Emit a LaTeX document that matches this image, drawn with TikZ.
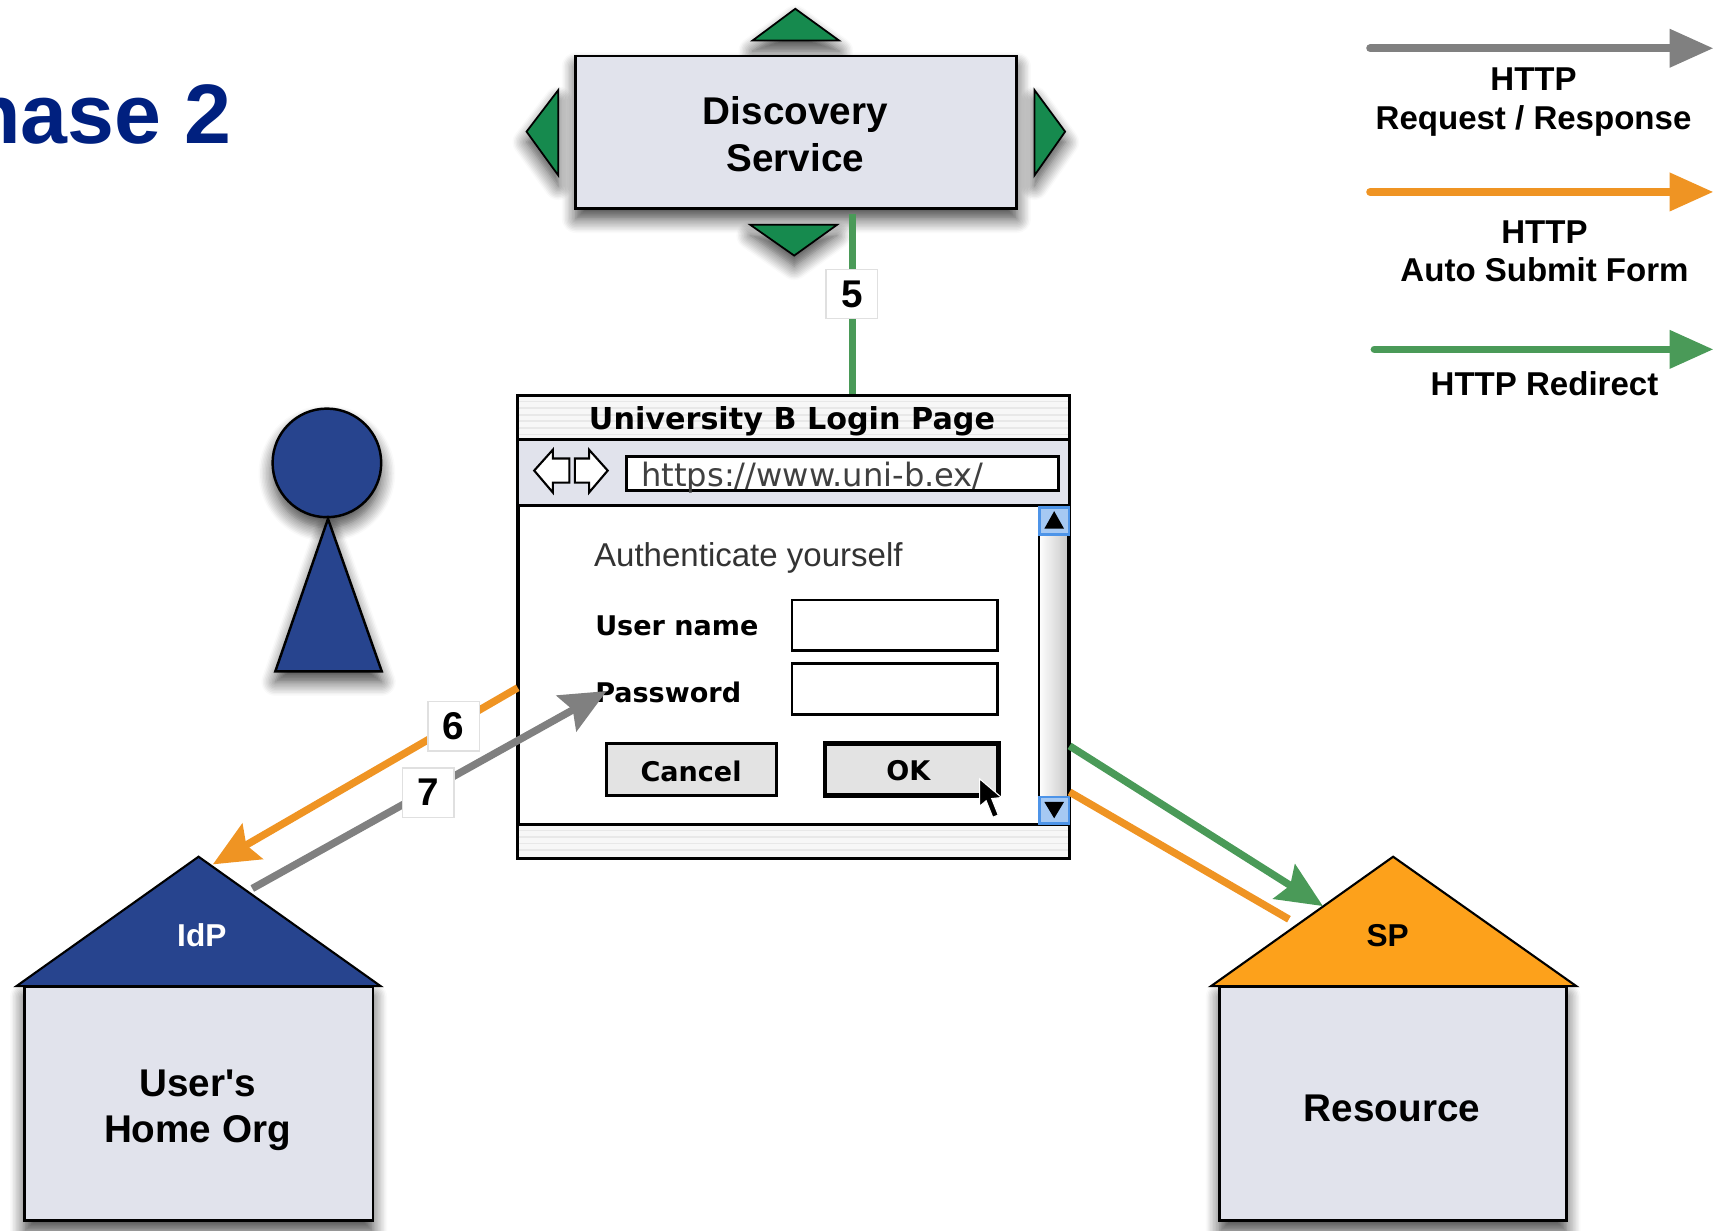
\documentclass[tikz,border=0pt]{standalone}
\usepackage{fontspec}
\setmainfont{Liberation Sans}
\newfontfamily\winfont{DejaVu Sans}
\usetikzlibrary{arrows.meta,shadows.blur}
\definecolor{boxgray}{HTML}{E1E3EC}
\definecolor{idpblue}{HTML}{27448E}
\definecolor{spgold}{HTML}{FDA11B}
\definecolor{dsgreen}{HTML}{168A4E}
\definecolor{linegreen}{HTML}{4A9A58}
\definecolor{lineorange}{HTML}{EF9423}
\definecolor{linegray}{HTML}{808080}
\definecolor{titleblue}{HTML}{00207F}
\definecolor{scrollblue}{HTML}{4D94E8}
\def \unit{0.01097cm}
\tikzset{
	softshadow/.style={blur shadow={shadow xshift=0pt,shadow yshift=-3pt,shadow blur radius=4pt,shadow blur steps=10,shadow opacity=75}},
	boxnode/.style={draw=black,line width=0.8pt,fill=boxgray,softshadow,inner sep=0pt},
	boxtext/.style={align=center,inner sep=0pt,font=\fontsize{11}{13.2}\selectfont\bfseries},
	dsarrow/.style={draw=black,line width=0.5pt,fill=dsgreen,softshadow},
	roofshape/.style={draw=black,line width=0.6pt},
	numlabel/.style={draw=black!12,line width=0.4pt,fill=white,inner sep=0pt,minimum width=47*\unit,minimum height=45*\unit,font=\fontsize{11}{13}\selectfont\bfseries},
	legendtext/.style={align=center,inner sep=0pt,font=\fontsize{9.4}{11}\selectfont\bfseries},
	flow/.style={line width=2.1pt},
	flowtip/.style={flow,-{Stealth[length=13pt,width=11.5pt,inset=2pt]}},
	legendline/.style={line width=2.2pt,line cap=round,-{Triangle[length=12.5pt,width=10.5pt]}},
	winpart/.style={draw=black,line width=0.8pt,inner sep=0pt},
	wintext/.style={inner sep=0pt,anchor=west,font=\winfont\fontsize{7.7}{9}\selectfont\bfseries},
	winbutton/.style={winpart,fill=black!11,minimum height=47*\unit},
	scrollcap/.style={draw=scrollblue,line width=0.8pt,fill=scrollblue!50,inner sep=0pt,minimum width=27*\unit,minimum height=24*\unit},
}
\begin{document}
\begin{tikzpicture}[x=\unit,y=-\unit]
	\useasboundingbox (0,0) rectangle (1568,1122);
	% title, cut by the page edge
	\node[anchor=east,inner sep=0pt,text=titleblue,font=\fontsize{24}{28}\selectfont\bfseries] (title) at (212,103) {Phase 2};
	% discovery service
	\coordinate (dsup) at (725,8);
	\coordinate (dsdown) at (724,233);
	\coordinate (dsleft) at (480,120);
	\coordinate (dsright) at (971,120);
	\draw[dsarrow] (dsup) -- (765,37) -- (686,37) -- cycle;
	\node[boxnode,minimum width=402*\unit,minimum height=139*\unit] (disc) at (726,120.5) {};
	\node[boxtext] (disctext) at (725,122.5) {Discovery\\Service};
	\draw[dsarrow] (dsdown) -- (684,205) -- (763,205) -- cycle;
	\draw[dsarrow] (dsleft) -- (509,82) -- (509,160) -- cycle;
	\draw[dsarrow] (dsright) -- (943,82) -- (943,160) -- cycle;
	% user
	\node[circle,draw=black,line width=0.7pt,fill=idpblue,softshadow,minimum size=99*\unit,inner sep=0pt] (head) at (298,422) {};
	\draw[draw=black,line width=0.7pt,fill=idpblue,softshadow] (299,473) -- (348,612) -- (251,612) -- cycle;
	% browser window
	\node[draw=black,line width=1pt,fill=white,inner sep=0pt,minimum width=503*\unit,minimum height=421*\unit] (win) at (723.5,571.5) {};
	\fill[black!3] (473,362) rectangle (974,401);
	\fill[black!3] (473,752) rectangle (974,781);
	\foreach \y in {366,372,...,399}{\draw[black!9,line width=0.5pt] (473,\y) -- (974,\y);};
	\foreach \y in {757,763,...,780}{\draw[black!9,line width=0.5pt] (473,\y) -- (974,\y);};
	\draw[winpart,fill=boxgray] (472,401) rectangle (975,461);
	\draw[winpart] (472,752) -- (975,752);
	\node[wintext,anchor=center,font=\winfont\fontsize{8.6}{10}\selectfont\bfseries] (wintitle) at (722,384) {University B Login Page};
	\draw[line width=0.6pt,fill=white] (487,429) -- (504,410) -- (504,418) -- (519,418) -- (519,440) -- (504,440) -- (504,449) -- cycle;
	\draw[line width=0.6pt,fill=white] (554,429) -- (537,410) -- (537,418) -- (524,418) -- (524,440) -- (537,440) -- (537,449) -- cycle;
	\node[winpart,fill=white,minimum width=394*\unit,minimum height=31*\unit] (url) at (768,431.5) {};
	\node[inner sep=0pt,anchor=west,font=\winfont\fontsize{9.15}{11}\selectfont,text=black!75] (urltext) at (584,435) {https://www.uni-b.ex/};
	% scroll bar
	\draw[draw=black,line width=0.7pt,left color=white,right color=black!22] (947,463) rectangle (974,751);
	\node[scrollcap] (scrollup) at (961,475) {};
	\node[scrollcap] (scrolldown) at (961,738.5) {};
	\fill[black] (961,466) -- (970,482) -- (952,482) -- cycle;
	\fill[black] (961,746) -- (970,731) -- (952,731) -- cycle;
	% form
	\node[inner sep=0pt,anchor=west,font=\fontsize{9.4}{12}\selectfont,text=black!80] (auth) at (541,509) {Authenticate yourself};
	\node[wintext] (username) at (542,570.5) {User name};
	\node[wintext] (password) at (542,631) {Password};
	\node[winpart,minimum width=187*\unit,minimum height=46*\unit] (userfield) at (815.5,570) {};
	\node[winpart,minimum width=187*\unit,minimum height=46*\unit] (passfield) at (815.5,628) {};
	\node[winbutton,minimum width=155*\unit] (cancel) at (630.5,701.5) {};
	\node[wintext,anchor=center] (canceltext) at (630,703) {Cancel};
	\node[winbutton,minimum width=158*\unit,line width=1.3pt] (ok) at (831,701.5) {};
	\node[wintext,anchor=center] (oktext) at (828,703) {OK};
	\draw[fill=black,draw=white,line width=0.3pt] (893,710) -- (893,735) -- (899,730) -- (905,745) -- (910,743) -- (904,728) -- (913,727) -- cycle;
	% home org
	\node[boxnode,minimum width=318*\unit,minimum height=214*\unit] (home) at (181,1006) {};
	\node[boxtext] (hometext) at (180,1012) {User\textquotesingle s\\Home Org};
	\coordinate (idptop) at (181,781);
	\draw[roofshape,fill=idpblue] (idptop) -- (347,899) -- (15,899) -- cycle;
	\node[inner sep=0pt,text=white,font=\fontsize{9}{11}\selectfont\bfseries] (idp) at (184,853) {IdP};
	% resource
	\node[boxnode,minimum width=316*\unit,minimum height=214*\unit] (res) at (1270,1006) {};
	\node[boxtext] (restext) at (1269,1010) {Resource};
	\coordinate (sptop) at (1270,781);
	\draw[roofshape,fill=spgold] (sptop) -- (1437,899) -- (1104,899) -- cycle;
	\node[inner sep=0pt,text=black,font=\fontsize{9}{11}\selectfont\bfseries] (sp) at (1265,853) {SP};
	% flows
	\coordinate (tapfive) at (777,195);
	\coordinate (sixfrom) at (472,627);
	\coordinate (sixto) at (194,788);
	\coordinate (sevenfrom) at (230,810);
	\coordinate (sevento) at (553,630);
	\coordinate (greenfrom) at (975,680);
	\coordinate (greento) at (1206,826);
	\coordinate (orangefrom) at (975,722);
	\coordinate (orangeto) at (1175,838);
	\draw[flow,linegreen] (tapfive) -- (tapfive |- win.north);
	\draw[flowtip,lineorange] (sixfrom) -- (sixto);
	\draw[flowtip,linegray] (sevenfrom) -- (sevento);
	\draw[flowtip,linegreen] (greenfrom) -- (greento);
	\draw[flow,lineorange] (orangefrom) -- (orangeto);
	\node[numlabel] (five) at (776.5,268) {5};
	\node[numlabel] (six) at (413.5,662) {6};
	\node[numlabel] (seven) at (390.5,722.5) {7};
	% legend
	\coordinate (lega) at (1249,44);
	\coordinate (legae) at (1562,44);
	\coordinate (legb) at (1249,175);
	\coordinate (legbe) at (1562,175);
	\coordinate (legc) at (1253,318.5);
	\coordinate (legce) at (1562,318.5);
	\draw[legendline,linegray] (lega) -- (legae);
	\draw[legendline,lineorange] (legb) -- (legbe);
	\draw[legendline,linegreen] (legc) -- (legce);
	\node[legendtext] (legatext) at (1398,93) {HTTP\\Request / Response};
	\node[legendtext] (legbtext) at (1408,229) {HTTP\\Auto Submit Form};
	\node[legendtext] (legctext) at (1408,349.5) {HTTP Redirect};
\end{tikzpicture}
\end{document}
